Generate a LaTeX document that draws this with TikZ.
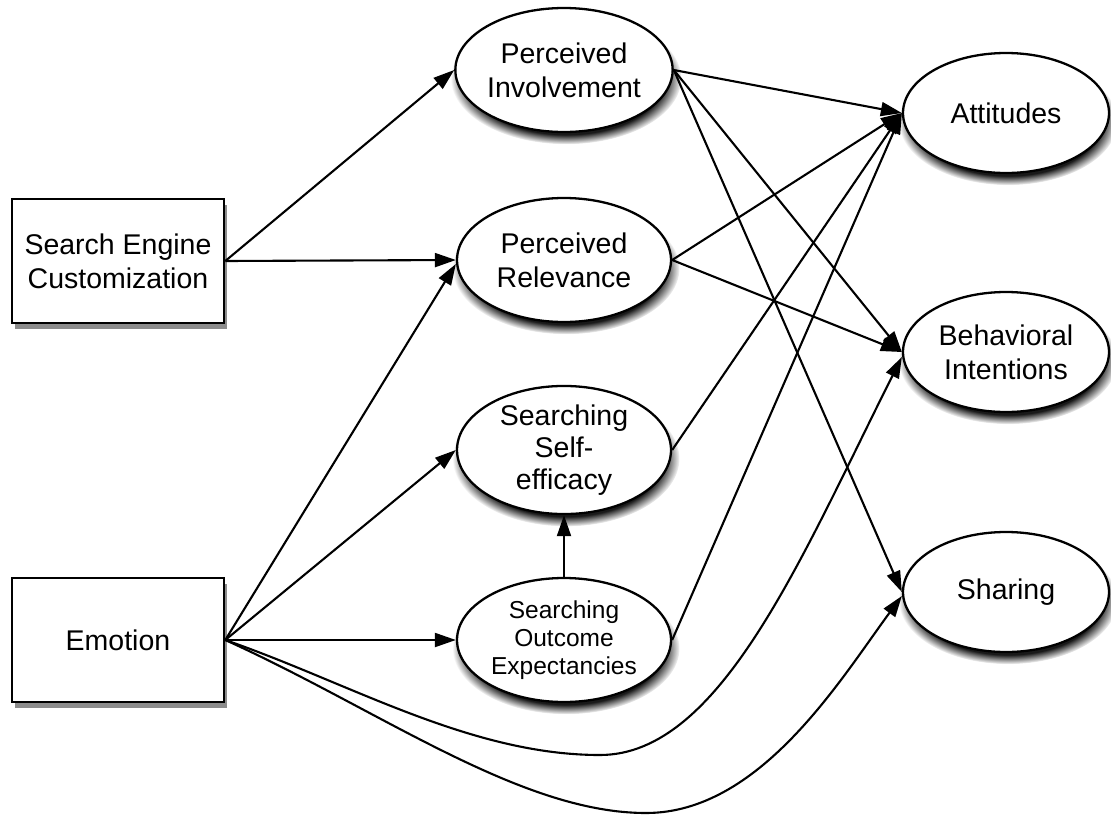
\documentclass[tikz,border=0pt]{standalone}
\usepackage{fontspec}
\setmainfont{Liberation Sans}
\usetikzlibrary{arrows.meta,shapes.geometric,shadows}
\begin{document}
\begin{tikzpicture}[x=1pt,y=-1pt,
  lbl/.style={align=center, font=\fontsize{28.5}{34}\selectfont},
  box/.style={lbl, draw, line width=2.6pt, fill=white, minimum width=212pt, minimum height=124pt, inner sep=0pt,
    drop shadow={shadow xshift=3pt, shadow yshift=-6pt, opacity=0.45, fill=black}},
  ell/.style={lbl, ellipse, draw, line width=2.3pt, fill=white, inner sep=0pt,
    circular drop shadow={shadow xshift=2pt, shadow yshift=-8pt, shadow scale=1.06, opacity=0.9, fill=black}},
  midell/.style={ell, minimum width=214pt, minimum height=124pt},
  rightell/.style={ell, minimum width=206pt, minimum height=120pt},
  arr/.style={-{Triangle[length=21pt,width=14pt]}, line width=2.1pt}
]
\useasboundingbox (0,0) rectangle (1111,817);

\node[box] (sec) at (118,261) {Search Engine\\Customization};
\node[box] (emo) at (118,640) {Emotion};

\node[midell] (pi) at (564,70) {Perceived\\Involvement};
\node[midell] (pr) at (564,260) {Perceived\\Relevance};
\node[midell, font=\fontsize{28.5}{32}\selectfont] (sse) at (564,450) {Searching\\Self-\\efficacy};
\node[midell, font=\fontsize{24.5}{28}\selectfont] (soe) at (564,640) {Searching\\Outcome\\Expectancies};

\node[rightell] (att) at (1006,113) {Attitudes};
\node[rightell] (beh) at (1006,352) {Behavioral\\Intentions};
\node[rightell] (sha) at (1006,592) {Sharing};

\coordinate (m1) at (600,755);
\coordinate (m2) at (646,813);

\draw[arr] (sec.east) -- (pi.west);
\draw[arr] (sec.east) -- (pr.west);
\draw[arr] (emo.east) -- ([yshift=-4pt]pr.west);
\draw[arr] (emo.east) -- (sse.west);
\draw[arr] (emo.east) -- (soe.west);
\draw[arr] (soe.north) -- (sse.south);

\draw[arr] (pi.east) -- (att.west);
\draw[arr] (pi.east) -- (beh.west);
\draw[arr] (pi.east) -- (sha.west);
\draw[arr] (pr.east) -- (att.west);
\draw[arr] (pr.east) -- (beh.west);
\draw[arr] (sse.east) -- (att.west);
\draw[arr] (soe.east) -- (att.west);

\draw[arr] (emo.east) .. controls (350,683) and (470,755) .. (m1)
  .. controls (720,755) and (800,560) .. ([yshift=-5pt]beh.west);
\draw[arr] (emo.east) .. controls (380,710) and (520,813) .. (m2)
  .. controls (760,813) and (840,680) .. ([yshift=-4pt]sha.west);
\end{tikzpicture}
\end{document}
